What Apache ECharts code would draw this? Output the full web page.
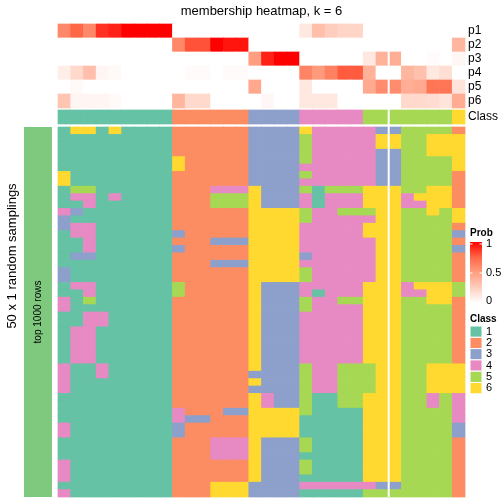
<!DOCTYPE html>
<html><head><meta charset="utf-8">
<script src="https://cdn.jsdelivr.net/npm/echarts@6/dist/echarts.min.js"></script>
<style>html,body{margin:0;padding:0;background:#fff}#c{width:504px;height:504px}</style>
</head><body><div id="c"></div>
<script>
const FONT = "'Liberation Sans', Arial, Helvetica, sans-serif";
const classNames = ['1','2','3','4','5','6'];
const classColors = ['#66C2A5','#FC8D62','#8DA0CB','#E78AC3','#A6D854','#FFD92F'];
const probRows = ['p1','p2','p3','p4','p5','p6'];
const probTicks = ['1','0.5','0'];

// membership probabilities per column (32 columns)
const p1 = [0.6,0.75,0.6,0.88,0.92,1,1,1,1, 0,0,0,0,0,0, 0,0,0,0, 0.12,0.33,0.26,0.22,0.22, 0,0,0,0,0,0,0, 0];
const p2 = [0,0,0,0,0,0,0,0,0, 0.6,0.8,0.8,1,0.95,0.95, 0,0,0,0, 0,0,0,0,0, 0,0,0,0,0,0,0, 0.38];
const p3 = [0,0,0,0,0,0,0,0,0, 0,0,0,0,0,0, 0.5,0.92,1,1, 0,0,0,0,0, 0.12,0.4,0.42,0,0,0.02,0, 0.04];
const p4 = [0.09,0.2,0.33,0.05,0.03,0,0,0,0, 0,0.02,0.02,0,0.02,0.02, 0,0,0,0, 0.62,0.52,0.63,0.78,0.78, 0.4,0,0,0.38,0.32,0.12,0.17, 0];
const p5 = [0,0.03,0,0,0,0,0,0,0, 0,0,0,0,0,0, 0.45,0,0,0, 0.12,0,0,0,0, 0.44,0.58,0.58,0.42,0.44,0.68,0.68, 0.14];
const p6 = [0.3,0.05,0.05,0.05,0.03,0,0,0,0, 0.38,0.2,0.2,0,0,0, 0,0.04,0,0, 0.12,0.12,0.12,0,0, 0,0,0,0.2,0.2,0.18,0.14, 0.43];
const columnClass = [1,1,1,1,1,1,1,1,1, 2,2,2,2,2,2, 3,3,3,3, 4,4,4,4,4, 5,5,5,5,5,5,5, 6];

// 50 random samplings x 32 columns: predicted class
const samplings = [
[1,6,6,1,6,1,1,1,1,2,2,2,2,2,2,3,3,3,3,6,4,4,4,4,4,3,3,5,5,5,5,2],
[1,1,1,1,1,1,1,1,1,2,2,2,2,2,2,3,3,3,3,5,4,4,4,4,4,6,6,5,5,6,6,6],
[1,1,1,1,1,1,1,1,1,2,2,2,2,2,2,3,3,3,3,5,4,4,4,4,4,6,6,5,5,6,6,6],
[1,1,1,1,1,1,1,1,1,2,2,2,2,2,2,3,3,3,3,5,4,4,4,4,4,3,3,5,5,6,6,6],
[1,1,1,1,1,1,1,1,1,6,2,2,2,2,2,3,3,3,3,5,4,4,4,4,4,3,3,5,5,5,5,6],
[1,1,1,1,1,1,1,1,1,6,2,2,2,2,2,3,3,3,3,4,4,4,4,4,4,3,3,5,5,5,5,6],
[6,1,1,1,1,1,1,1,1,2,2,2,2,2,2,3,3,3,3,5,4,4,4,4,4,3,3,5,5,5,5,2],
[6,1,1,1,1,1,1,1,1,2,2,2,2,2,2,3,3,3,3,4,4,4,4,4,4,3,3,5,5,5,5,2],
[1,5,5,1,1,1,1,1,1,2,2,2,4,4,4,6,3,3,3,5,1,5,5,5,6,6,6,5,5,6,6,2],
[1,4,4,1,4,1,1,1,1,2,2,2,5,5,5,6,3,3,3,4,1,4,4,4,6,6,6,4,6,6,6,2],
[1,1,4,1,1,1,1,1,1,2,2,2,5,5,5,6,3,3,3,4,1,4,4,4,6,6,6,4,4,6,6,2],
[4,3,1,1,1,1,1,1,1,2,2,2,2,2,2,6,6,6,6,5,4,4,5,5,5,6,6,5,5,6,5,6],
[3,1,1,1,1,1,1,1,1,2,2,2,2,2,2,6,6,6,6,5,4,4,4,4,4,6,6,5,5,5,5,6],
[3,4,4,1,1,1,1,1,1,2,2,2,2,2,2,6,6,6,6,4,4,4,4,4,6,6,6,5,5,5,5,2],
[1,4,4,1,1,1,1,1,1,3,2,2,2,2,2,6,6,6,6,4,4,4,4,4,6,6,6,5,5,5,5,3],
[1,1,4,1,1,1,1,1,1,2,2,2,3,3,3,6,6,6,6,4,4,4,4,4,4,6,6,5,5,5,5,2],
[1,1,4,1,1,1,1,1,1,3,2,2,2,2,2,6,6,6,6,4,4,4,4,4,4,6,6,5,5,5,5,3],
[1,3,3,1,1,1,1,1,1,2,2,2,2,2,2,6,6,6,6,3,4,4,4,4,4,6,6,5,5,5,5,2],
[1,1,1,1,1,1,1,1,1,2,2,2,3,3,3,6,6,6,6,4,4,4,4,4,4,6,6,5,5,5,5,2],
[3,1,1,1,1,1,1,1,1,2,2,2,2,2,2,6,6,6,6,5,4,4,4,4,4,6,6,5,5,5,5,2],
[3,1,1,1,1,1,1,1,1,2,2,2,2,2,2,6,6,6,6,5,4,4,4,4,4,6,6,5,5,5,5,2],
[1,4,4,1,1,1,1,1,1,5,2,2,2,2,2,6,3,3,3,4,4,4,4,4,6,6,6,4,6,6,6,5],
[1,1,4,1,1,1,1,1,1,5,2,2,2,2,2,6,3,3,3,4,1,4,4,4,6,6,6,4,4,6,6,5],
[4,1,5,1,1,1,1,1,1,2,2,2,2,2,2,6,3,3,3,5,4,4,5,5,6,6,6,5,5,6,6,2],
[4,1,1,1,1,1,1,1,1,2,2,2,2,2,2,6,3,3,3,5,4,4,4,4,6,6,6,5,5,5,5,2],
[1,1,4,4,1,1,1,1,1,2,2,2,2,2,2,6,3,3,3,4,4,4,4,4,6,6,6,5,5,5,5,2],
[1,1,4,4,1,1,1,1,1,2,2,2,2,2,2,6,3,3,3,4,4,4,4,4,6,6,6,5,5,5,5,2],
[1,4,4,1,1,1,1,1,1,2,2,2,2,2,2,6,3,3,3,4,4,4,4,4,6,6,6,5,5,5,5,2],
[1,4,4,1,1,1,1,1,1,2,2,2,2,2,2,6,3,3,3,4,4,4,4,4,6,6,6,5,5,5,5,2],
[1,4,4,1,1,1,1,1,1,2,2,2,2,2,2,6,3,3,3,4,4,4,4,4,6,6,6,5,5,5,5,2],
[1,4,4,1,1,1,1,1,1,2,2,2,2,2,2,6,3,3,3,4,4,4,4,4,6,6,6,5,5,5,5,2],
[1,4,4,1,1,1,1,1,1,2,2,2,2,2,2,6,3,3,3,4,4,4,4,4,6,6,6,5,5,5,5,2],
[4,1,1,4,1,1,1,1,1,2,2,2,2,2,2,6,3,3,3,5,4,4,5,5,5,6,6,5,5,6,6,6],
[4,1,1,4,1,1,1,1,1,2,2,2,2,2,2,3,3,3,3,5,4,4,5,5,5,6,6,5,5,6,6,6],
[4,1,1,1,1,1,1,1,1,2,2,2,2,2,2,6,3,3,3,5,4,4,5,5,5,6,6,5,5,6,6,6],
[4,1,1,1,1,1,1,1,1,2,2,2,2,2,2,3,3,3,3,5,4,4,5,5,5,6,6,5,5,6,6,6],
[1,1,1,1,1,1,1,1,1,2,2,2,2,2,2,6,4,3,3,5,1,1,5,5,6,6,6,5,5,4,5,4],
[1,1,1,1,1,1,1,1,1,2,2,2,2,2,2,6,4,3,3,5,1,1,5,5,6,6,6,5,5,4,5,4],
[1,1,1,1,1,1,1,1,1,4,2,2,2,3,3,6,6,6,6,5,1,1,1,1,6,6,6,5,5,5,5,4],
[1,1,1,1,1,1,1,1,1,4,3,3,2,2,2,6,6,6,6,1,1,1,1,1,6,6,6,5,5,5,5,4],
[4,1,1,1,1,1,1,1,1,3,2,2,2,2,2,6,6,6,6,1,1,1,1,1,6,6,6,5,5,5,5,3],
[4,1,1,1,1,1,1,1,1,3,2,2,2,2,2,6,6,6,6,1,1,1,1,1,6,6,6,5,5,5,5,3],
[1,1,1,1,1,1,1,1,1,2,2,2,4,4,4,6,3,3,3,5,1,1,1,1,6,6,6,5,5,5,5,2],
[1,1,1,1,1,1,1,1,1,2,2,2,4,4,4,6,3,3,3,5,1,1,1,1,6,6,6,5,5,5,5,2],
[1,1,1,1,1,1,1,1,1,2,2,2,4,4,4,6,3,3,3,1,1,1,1,1,6,6,6,5,5,5,5,2],
[4,1,1,1,1,1,1,1,1,2,2,2,2,2,2,6,3,3,3,5,1,1,1,1,6,6,6,5,5,5,5,2],
[4,1,1,1,1,1,1,1,1,2,2,2,2,2,2,6,3,3,3,5,1,1,1,1,6,6,6,5,5,5,5,2],
[4,1,1,1,1,1,1,1,1,2,2,2,2,2,2,6,3,3,3,1,1,1,1,1,6,6,6,5,5,5,5,2],
[1,1,1,1,1,1,1,1,1,2,2,2,6,6,6,3,3,3,3,4,4,4,4,4,4,3,3,5,5,5,5,2],
[4,1,1,1,1,1,1,1,1,2,2,2,6,6,6,3,3,3,3,1,1,1,1,1,5,5,5,5,5,5,5,2]
];

const nCol = columnClass.length;
const nRow = samplings.length;
const cols = Array.from({length: nCol}, (_, i) => 'c' + (i + 1));
const rows = Array.from({length: nRow}, (_, i) => 's' + (i + 1));

const probMatrix = [p1, p2, p3, p4, p5, p6];
const probData = [];
probMatrix.forEach((arr, r) => arr.forEach((v, c) => probData.push([c, r, v])));
const classRowData = columnClass.map((v, c) => [c, 0, v]);
const mainData = [];
samplings.forEach((arr, r) => arr.forEach((v, c) => mainData.push([c, r, v])));

// layout
const L = 58, W = 407;
const gTop = {top: 24, h: 84}, gCls = {top: 110, h: 14}, gMain = {top: 127, h: 370};
const splitAt = 26;
const splitX = L + splitAt * W / nCol;

const probColors = ['#FFFFFF', '#FFCFBF', '#FF9E81', '#FF6746', '#FF0000'];

const chart = echarts.init(document.getElementById('c'), null, {renderer: 'canvas'});

const hiddenX = (gi) => ({type: 'category', data: cols, gridIndex: gi, show: false});

// cell renderer: rectangle per cell, slightly enlarged to avoid anti-alias seams
function renderCell(params, api) {
  const p = api.coord([api.value(0), api.value(1)]);
  const s = api.size([1, 1]);
  const e = 0.35;
  return {
    type: 'rect',
    shape: {x: p[0] - s[0] / 2 - e, y: p[1] - s[1] / 2 - e, width: s[0] + 2 * e, height: s[1] + 2 * e},
    style: {fill: api.visual('color'), stroke: null}
  };
}

const graphics = [];
const txt = (x, y, text, font, align, extra) => Object.assign({type: 'text', x, y, z: 11,
  style: {text, font, fill: '#000', textAlign: align, textVerticalAlign: 'middle', align, verticalAlign: 'middle'}}, extra || {});
graphics.push(txt((L + L + W) / 2, 11, 'membership heatmap, k = 6', '13px ' + FONT, 'center'));
// split gap
graphics.push({type: 'rect', z: 10, shape: {x: splitX - 1, y: gTop.top, width: 2, height: gMain.top + gMain.h - gTop.top},
  style: {fill: '#FFFFFF'}});
// left annotation bar
graphics.push({type: 'rect', z: 10, shape: {x: 24, y: gMain.top, width: 28, height: gMain.h}, style: {fill: '#7FC97F'}});
graphics.push(txt(38, gMain.top + gMain.h / 2, 'top 1000 rows', '10px ' + FONT, 'center', {rotation: Math.PI / 2}));
graphics.push(txt(12, 256, '50 x 1 random samplings', '13px ' + FONT, 'center', {rotation: Math.PI / 2}));
// Prob legend
const lgX = 470;
graphics.push(txt(lgX, 233, 'Prob', 'bold 10px ' + FONT, 'left'));
const barTop = 242, barH = 61;
graphics.push({type: 'rect', z: 10, shape: {x: lgX, y: barTop, width: 12, height: barH},
  style: {fill: new echarts.graphic.LinearGradient(0, 0, 0, 1,
    probColors.slice().reverse().map((c, i) => ({offset: i / (probColors.length - 1), color: c})))}});
const tickY = [244, 273, 301];
probTicks.forEach((t, i) => {
  graphics.push({type: 'rect', z: 11, shape: {x: lgX, y: tickY[i] - 0.5, width: 2.5, height: 1}, style: {fill: '#FFFFFF'}});
  graphics.push({type: 'rect', z: 11, shape: {x: lgX + 9.5, y: tickY[i] - 0.5, width: 2.5, height: 1}, style: {fill: '#FFFFFF'}});
  graphics.push(txt(lgX + 16, tickY[i], t, '11px ' + FONT, 'left'));
});
// Class legend
graphics.push(txt(lgX, 319, 'Class', 'bold 10px ' + FONT, 'left'));
classNames.forEach((n, i) => {
  const y0 = 326 + i * 11.3;
  graphics.push({type: 'rect', z: 10, shape: {x: lgX, y: y0, width: 12, height: 11.3},
    style: {fill: classColors[i], stroke: '#FFFFFF', lineWidth: 1}});
  graphics.push(txt(lgX + 16, y0 + 5.8, n, '11px ' + FONT, 'left'));
});

const rightAxis = (data, gi) => ({type: 'category', data, gridIndex: gi, inverse: true, position: 'right',
  axisLine: {show: false}, axisTick: {show: false}, splitLine: {show: false},
  axisLabel: {fontSize: 12, color: '#000', margin: 3, fontFamily: FONT, interval: 0}});

const option = {
  animation: false,
  textStyle: {fontFamily: FONT},
  grid: [
    {left: L, top: gTop.top, width: W, height: gTop.h},
    {left: L, top: gCls.top, width: W, height: gCls.h},
    {left: L, top: gMain.top, width: W, height: gMain.h}
  ],
  xAxis: [hiddenX(0), hiddenX(1), hiddenX(2)],
  yAxis: [
    rightAxis(probRows, 0),
    rightAxis(['Class'], 1),
    {type: 'category', data: rows, gridIndex: 2, inverse: true, show: false}
  ],
  visualMap: [
    {type: 'continuous', min: 0, max: 1, dimension: 2, seriesIndex: 0, show: false,
      inRange: {color: probColors}},
    {type: 'piecewise', dimension: 2, seriesIndex: [1, 2], show: false,
      pieces: classNames.map((n, i) => ({value: i + 1, color: classColors[i]}))}
  ],
  series: [
    {type: 'custom', xAxisIndex: 0, yAxisIndex: 0, data: probData, silent: true, renderItem: renderCell, encode: {x: 0, y: 1}},
    {type: 'custom', xAxisIndex: 1, yAxisIndex: 1, data: classRowData, silent: true, renderItem: renderCell, encode: {x: 0, y: 1}},
    {type: 'custom', xAxisIndex: 2, yAxisIndex: 2, data: mainData, silent: true, renderItem: renderCell, encode: {x: 0, y: 1}}
  ],
  graphic: graphics
};
chart.setOption(option);
</script>
</body></html>
